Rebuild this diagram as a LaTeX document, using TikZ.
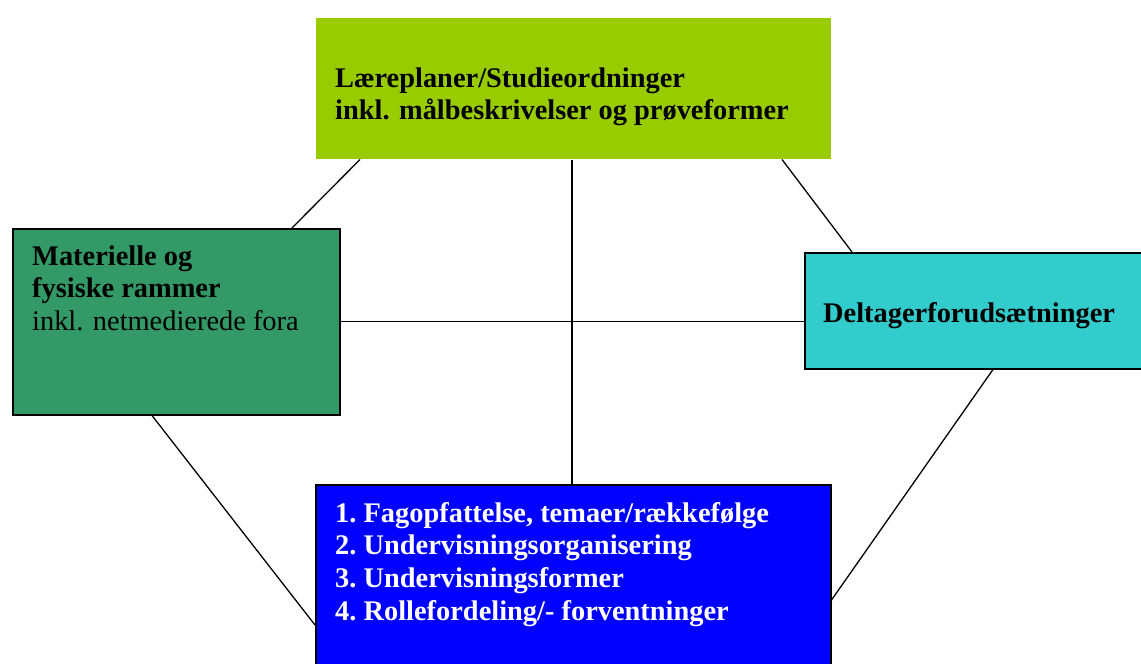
\documentclass[tikz,border=0pt]{standalone}
\usepackage{fontspec}
\setmainfont{Liberation Serif}
\definecolor{topgreen}{HTML}{99CC00}
\definecolor{seagreen}{HTML}{339966}
\definecolor{teal}{HTML}{33CCCC}
\definecolor{deepblue}{HTML}{0000FF}
\begin{document}
\begin{tikzpicture}[x=1pt,y=-1pt,
  box/.style={rectangle, inner sep=0pt, anchor=north west, line width=1.5pt, draw=black},
  lbl/.style={anchor=base west, inner sep=0pt, font=\fontsize{28.4}{32}\selectfont\bfseries},
  conn/.style={line width=1.3pt, black}]
\clip (0,0) rectangle (1141,664);
\fill[white] (0,0) rectangle (1141,664);
% boxes
\node[box, draw=none, fill=topgreen, minimum width=515pt, minimum height=141pt] (top) at (315,17) {};
\node[box, fill=seagreen, minimum width=327pt, minimum height=186pt] (left) at (12,228) {};
\node[box, fill=teal, minimum width=340pt, minimum height=116pt] (right) at (804,252) {};
\node[box, fill=deepblue, minimum width=515pt, minimum height=190pt] (bottom) at (315,484) {};
% connectors
\draw[conn] ([xshift=45pt]top.south west) -- ([xshift=280pt]left.north west);
\draw[conn] ([xshift=257pt]top.south west) -- ([xshift=257pt]bottom.north west);
\draw[conn] ([xshift=467pt]top.south west) -- ([xshift=48pt]right.north west);
\draw[conn] (left.east) -- (left.east -| right.west);
\draw[conn] ([xshift=140pt]left.south west) -- ([yshift=-141pt]bottom.north west);
\draw[conn] ([xshift=189pt]right.south west) -- ([yshift=-116pt]bottom.north east);
% texts
\node[lbl] (t1) at (335,87) {Læreplaner/Studieordninger};
\node[lbl] (t2) at (335,119) {inkl. målbeskrivelser og prøveformer};
\node[lbl] (l1) at (32,265) {Materielle og};
\node[lbl] (l2) at (32,297) {fysiske rammer};
\node[lbl, font=\fontsize{28.4}{32}\selectfont] (l3) at (32,330) {inkl. netmedierede fora};
\node[lbl] (r1) at (823,322) {Deltagerforudsætninger};
\node[lbl, text=white] (b1) at (335,522) {1.\ Fagopfattelse, temaer/rækkefølge};
\node[lbl, text=white] (b2) at (335,554) {2.\ Undervisningsorganisering};
\node[lbl, text=white] (b3) at (335,587) {3.\ Undervisningsformer};
\node[lbl, text=white] (b4) at (335,620) {4.\ Rollefordeling/- forventninger};
\end{tikzpicture}
\end{document}
